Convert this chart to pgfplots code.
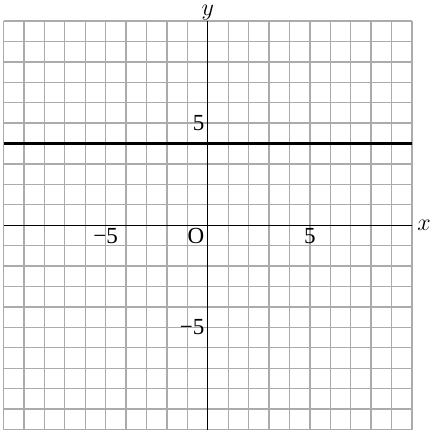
\documentclass[border=0pt]{standalone}
\usepackage{fontspec}
\setmainfont{Liberation Serif}
\usepackage{pgfplots}
\pgfplotsset{compat=1.18}
\begin{document}
\fontsize{11.5}{13}\selectfont
\begin{tikzpicture}
\useasboundingbox (-103.75pt,-102.5pt) rectangle (113pt,112.5pt);
\begin{axis}[
 anchor=origin, at={(0,0)},
 x=10.2pt, y=10.2pt,
 xmin=-10,xmax=10,ymin=-10,ymax=10,
 axis lines=middle,
 axis line style={black, line width=0.6pt, -},
 xtick={-10,...,10}, ytick={-10,...,10},
 xticklabels={,,,,,−5,,,,,,,,,,5,,,,,},
 yticklabels={,,,,,−5,,,,,,,,,,5,,,,,},
 grid=major,
 major grid style={black!33, line width=0.65pt},
 major tick length=0pt,
 xticklabel style={inner sep=1.5pt, font=\fontsize{11.5}{13}\selectfont},
 yticklabel style={inner sep=1.5pt, font=\fontsize{11.5}{13}\selectfont},
 xlabel={$x$}, ylabel={$y$},
 xlabel style={at={(axis cs:10,0)}, anchor=west, inner sep=2.5pt},
 ylabel style={at={(axis cs:0,10)}, anchor=south, rotate=0, inner sep=0.3pt},
 clip=false,
]
\addplot[black, line width=1.6pt] coordinates {(-10,4) (10,4)};
\node[anchor=north east, inner sep=1.5pt] at (axis cs:0,0) {O};
\end{axis}
\end{tikzpicture}
\end{document}
